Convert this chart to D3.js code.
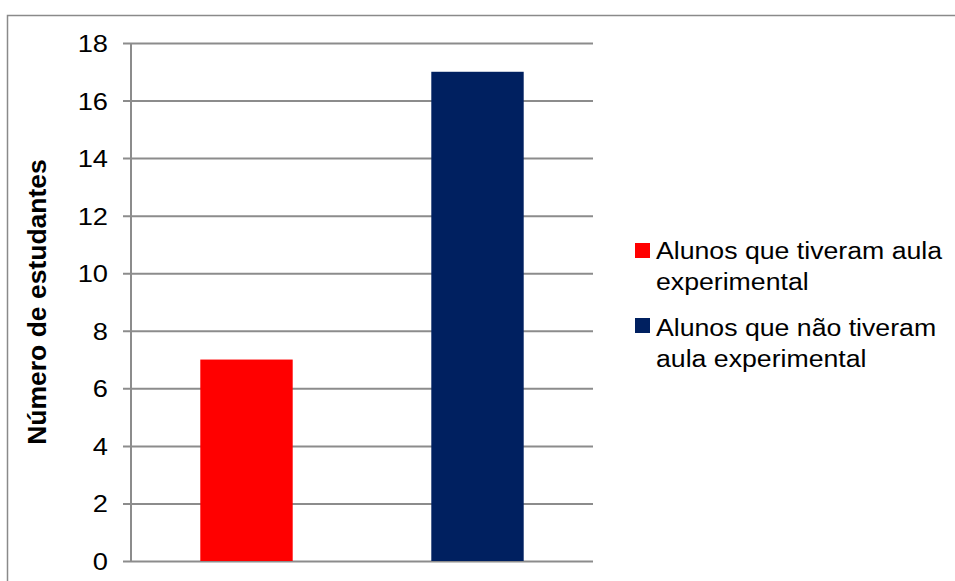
<!DOCTYPE html>
<html>
<head>
<meta charset="utf-8">
<script src="https://cdn.jsdelivr.net/npm/d3@7/dist/d3.min.js"></script>
<style>
  html, body { margin: 0; padding: 0; background: #fff; }
  svg { display: block; }
  text { font-family: "Liberation Sans", Arial, sans-serif; fill: #000; }
</style>
</head>
<body>
<svg id="chart" width="955" height="581"></svg>
<script>
// Chart data
const seriesNames = [
  ["Alunos que tiveram aula", "experimental"],
  ["Alunos que não tiveram", "aula experimental"]
];
const seriesValues = [7, 17];
const seriesColors = ["#ff0000", "#002060"];
const yTicks = [0, 2, 4, 6, 8, 10, 12, 14, 16, 18];
const yTitle = "Número de estudantes";

const svg = d3.select("#chart");
const W = 955, H = 581;
const plot = { left: 131, right: 593, top: 43, bottom: 561 };
const stretch = 1.16; // horizontal glyph stretch of the labels

svg.append("rect").attr("width", W).attr("height", H).attr("fill", "#fff");

// outer chart frame (runs past the right and bottom edges)
svg.append("rect")
  .attr("x", 7.5).attr("y", 15.5)
  .attr("width", W + 10).attr("height", H + 10)
  .attr("fill", "none").attr("stroke", "#8a8a8a").attr("stroke-width", 1.5);

const y = d3.scaleLinear().domain([0, 18]).range([plot.bottom, plot.top]);
const x = d3.scaleBand()
  .domain(d3.range(seriesValues.length))
  .range([plot.left, plot.right])
  .paddingInner(0).paddingOuter(0);

// y axis with gridlines
const yAxis = d3.axisLeft(y)
  .tickValues(yTicks)
  .tickFormat(d3.format("d"))
  .tickSize(-(plot.right - plot.left))
  .tickPadding(0);

const gy = svg.append("g")
  .attr("transform", `translate(${plot.left},0)`)
  .call(yAxis);

gy.select(".domain").remove();
gy.selectAll(".tick line")
  .attr("x1", -8)
  .attr("stroke", "#8c8c8c")
  .attr("stroke-width", 2);
gy.selectAll(".tick text")
  .attr("x", 0)
  .attr("dy", "0.36em")
  .attr("transform", `translate(-23,0) scale(${stretch},1)`)
  .style("font-size", "23.5px")
  .style("font-family", '"Liberation Sans", Arial, sans-serif');

// vertical axis line
svg.append("line")
  .attr("x1", plot.left).attr("x2", plot.left)
  .attr("y1", y(18)).attr("y2", y(0))
  .attr("stroke", "#8c8c8c").attr("stroke-width", 2);

// bars
const barW = x.bandwidth() / 2.5;
svg.append("g").selectAll("rect")
  .data(seriesValues)
  .join("rect")
  .attr("x", (d, i) => x(i) + (x.bandwidth() - barW) / 2)
  .attr("y", d => y(d))
  .attr("width", barW)
  .attr("height", d => y(0) - y(d))
  .attr("fill", (d, i) => seriesColors[i]);

// y axis title
svg.append("text")
  .attr("transform", `translate(46,${(plot.top + plot.bottom) / 2}) rotate(-90)`)
  .attr("text-anchor", "middle")
  .style("font-size", "26.5px")
  .style("font-weight", "bold")
  .text(yTitle);

// legend
const legend = svg.append("g").attr("transform", "translate(635,243)");
const entry = legend.selectAll("g")
  .data(seriesNames)
  .join("g")
  .attr("transform", (d, i) => `translate(0,${i * 75})`);

entry.append("rect")
  .attr("width", 15).attr("height", 15)
  .attr("fill", (d, i) => seriesColors[i]);

entry.each(function (lines, i) {
  const g = d3.select(this);
  lines.forEach((line, j) => {
    g.append("text")
      .attr("transform", `translate(21,${15.5 + i * 2 + j * 31}) scale(${stretch},1)`)
      .style("font-size", "23px")
      .text(line);
  });
});
</script>
</body>
</html>
